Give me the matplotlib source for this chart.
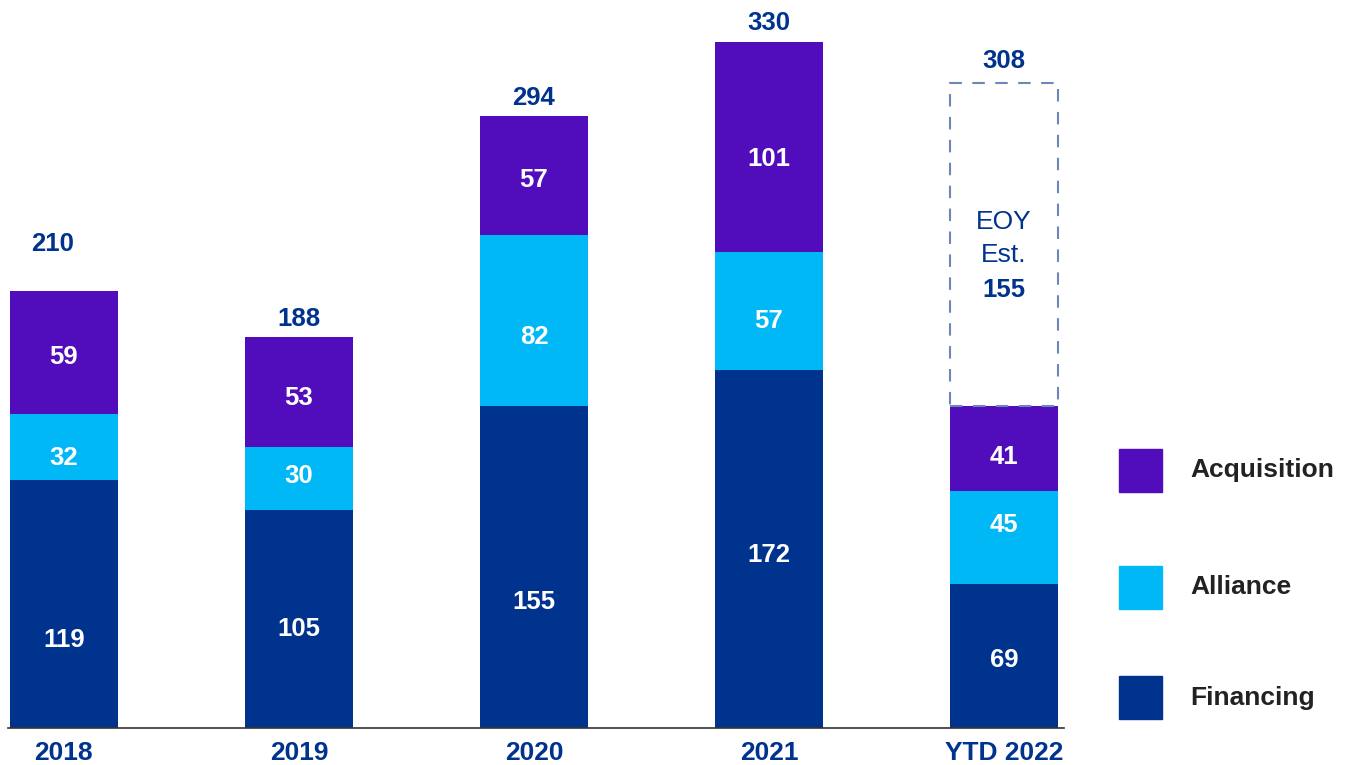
import matplotlib.pyplot as plt
from matplotlib.patches import Rectangle

plt.rcParams['font.family'] = ['Liberation Sans', 'DejaVu Sans']

years = ['2018', '2019', '2020', '2021', 'YTD 2022']
financing = [119, 105, 155, 172, 69]
alliance = [32, 30, 82, 57, 45]
acquisition = [59, 53, 57, 101, 41]
totals = [210, 188, 294, 330, 308]
eoy_est = 155

c_fin = '#00338D'
c_all = '#00B8F5'
c_acq = '#510DBC'
c_txt = '#00338D'

# label nudges (data units, negative = down) to mimic the original placement
nudge_fin = [-17, -5, -17, -3, -2]
nudge_all = [-5, 1, -8, -5, 6]
nudge_acq = [-2, -3, -2, -6, -4]

fig = plt.figure(figsize=(13.46, 7.65), dpi=100)
ax = fig.add_axes([0, 37 / 765, 1068 / 1346, 728 / 765])

x = list(range(len(years)))
w = 0.46
ax.bar(x, financing, w, color=c_fin)
ax.bar(x, alliance, w, bottom=financing, color=c_all)
base2 = [f + a for f, a in zip(financing, alliance)]
ax.bar(x, acquisition, w, bottom=base2, color=c_acq)

fs = 18.5
lab = dict(ha='center', va='center', fontsize=fs, fontweight='bold', color='white')
for i in x:
    ax.text(i, financing[i] / 2 + nudge_fin[i], str(financing[i]), **lab)
    ax.text(i, financing[i] + alliance[i] / 2 + nudge_all[i], str(alliance[i]), **lab)
    ax.text(i, base2[i] + acquisition[i] / 2 + nudge_acq[i], str(acquisition[i]), **lab)

# totals above bars (2018 label sits higher in the original)
stack_top = [b + a for b, a in zip(base2, acquisition)]
for i in x[:4]:
    off = 17 if i == 0 else 3
    ax.text(i - (0.05 if i == 0 else 0), stack_top[i] + off, str(totals[i]), ha='center', va='bottom',
            fontsize=fs, fontweight='bold', color=c_txt)

# EOY estimate dashed box for 2022
i = 4
box_top = stack_top[i] + eoy_est
ax.add_patch(Rectangle((i - w / 2, stack_top[i]), w, eoy_est, fill=False,
                       edgecolor='#6f86b8', linestyle=(0, (6, 5)), linewidth=1.5))
ax.text(i, box_top + 5, str(totals[i]), ha='center', va='bottom',
        fontsize=fs, fontweight='bold', color=c_txt)
ax.text(i, 243.5, 'EOY', ha='center', va='center', fontsize=19, color=c_txt)
ax.text(i, 227.5, 'Est.', ha='center', va='center', fontsize=19, color=c_txt)
ax.text(i, 210.5, str(eoy_est), ha='center', va='center', fontsize=fs,
        fontweight='bold', color=c_txt)

ax.set_xlim(-0.272, 4.272)
ax.set_ylim(0, 350)
for s in ['top', 'right', 'left']:
    ax.spines[s].set_visible(False)
ax.spines['bottom'].set_color('#333333')
ax.spines['bottom'].set_linewidth(1.2)
ax.spines['bottom'].set_bounds(-0.24, 4.255)
ax.set_yticks([])
ax.set_xticks(x)
ax.set_xticklabels(years, fontsize=19, fontweight='bold', color=c_txt)
ax.tick_params(axis='x', length=0, pad=9)

# legend
leg = [('Acquisition', c_acq, 470.5), ('Alliance', c_all, 587.5), ('Financing', c_fin, 697.5)]
for name, col, yc in leg:
    fig.patches.append(Rectangle((1119 / 1346, 1 - (yc + 21.5) / 765), 43 / 1346, 43 / 765,
                                 transform=fig.transFigure, color=col))
    fig.text(1190 / 1346, 1 - yc / 765, name, ha='left', va='center', fontsize=19,
             fontweight='bold', color='#222222')

fig.savefig('out.png', dpi=100)
